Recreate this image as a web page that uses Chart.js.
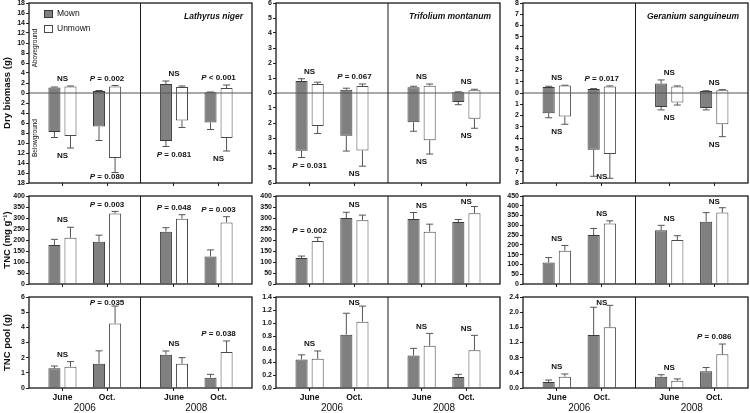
<!DOCTYPE html>
<html>
<head>
<meta charset="utf-8">
<script src="https://cdn.jsdelivr.net/npm/chart.js@4.4.1/dist/chart.umd.min.js"></script>
<style>
  html, body { margin: 0; padding: 0; background: #fff; }
  #wrap { position: relative; width: 750px; height: 413px; }
  #wrap canvas { position: absolute; left: 0; top: 0; }
</style>
</head>
<body>
<div id="wrap"></div>
<script>
// ---- categories / labels ----
const PERIODS = ['June', 'Oct.', 'June', 'Oct.'];
const YEARS = ['2006', '2008'];
const SERIES = ['Mown', 'Unmown'];
const SPECIES = ['Lathyrus niger', 'Trifolium montanum', 'Geranium sanguineum'];
const ROW_TITLES = ['Dry biomass (g)', 'TNC (mg g\u207B\u00B9)', 'TNC pool (g)'];

// ---- Lathyrus niger ----
const LN_ABOVE_MOWN = [1.1, 0.4, 1.8, 0.15];
const LN_ABOVE_MOWN_SE = [0.1, 0.1, 0.6, 0.05];
const LN_ABOVE_UNMOWN = [1.3, 1.3, 1.2, 1.0];
const LN_ABOVE_UNMOWN_SE = [0.1, 0.2, 0.2, 0.6];
const LN_BELOW_MOWN = [7.8, 6.7, 9.6, 5.9];
const LN_BELOW_MOWN_SE = [1.1, 2.8, 1.1, 1.4];
const LN_BELOW_UNMOWN = [8.6, 13.0, 5.5, 9.0];
const LN_BELOW_UNMOWN_SE = [2.4, 2.9, 1.4, 2.6];
const LN_TNC_MOWN = [177, 192, 238, 125];
const LN_TNC_MOWN_SE = [26, 30, 18, 30];
const LN_TNC_UNMOWN = [210, 320, 297, 280];
const LN_TNC_UNMOWN_SE = [48, 10, 18, 26];
const LN_POOL_MOWN = [1.3, 1.6, 2.2, 0.68];
const LN_POOL_MOWN_SE = [0.15, 0.85, 0.24, 0.22];
const LN_POOL_UNMOWN = [1.4, 4.25, 1.6, 2.38];
const LN_POOL_UNMOWN_SE = [0.34, 1.15, 0.4, 0.72];
const LN_P_ABOVE = ['NS', 'P = 0.002', 'NS', 'P < 0.001'];
const LN_P_BELOW = ['NS', 'P = 0.080', 'P = 0.081', 'NS'];
const LN_P_TNC = ['NS', 'P = 0.003', 'P = 0.048', 'P = 0.003'];
const LN_P_POOL = ['NS', 'P = 0.035', 'NS', 'P = 0.038'];

// ---- Trifolium montanum ----
const TM_ABOVE_MOWN = [0.8, 0.22, 0.38, 0.05];
const TM_ABOVE_MOWN_SE = [0.15, 0.1, 0.07, 0.03];
const TM_ABOVE_UNMOWN = [0.6, 0.47, 0.49, 0.18];
const TM_ABOVE_UNMOWN_SE = [0.12, 0.13, 0.11, 0.07];
const TM_BELOW_MOWN = [3.85, 2.85, 1.95, 0.6];
const TM_BELOW_MOWN_SE = [0.45, 1.02, 0.6, 0.18];
const TM_BELOW_UNMOWN = [2.2, 3.83, 3.15, 1.72];
const TM_BELOW_UNMOWN_SE = [0.5, 1.05, 0.92, 0.63];
const TM_TNC_MOWN = [118, 300, 295, 282];
const TM_TNC_MOWN_SE = [9, 26, 30, 11];
const TM_TNC_UNMOWN = [195, 290, 238, 322];
const TM_TNC_UNMOWN_SE = [17, 23, 34, 30];
const TM_POOL_MOWN = [0.44, 0.82, 0.5, 0.17];
const TM_POOL_MOWN_SE = [0.07, 0.33, 0.11, 0.04];
const TM_POOL_UNMOWN = [0.45, 1.02, 0.65, 0.58];
const TM_POOL_UNMOWN_SE = [0.12, 0.24, 0.19, 0.23];
const TM_P_ABOVE = ['NS', 'P = 0.067', 'NS', 'NS'];
const TM_P_BELOW = ['P = 0.031', 'NS', 'NS', 'NS'];
const TM_P_TNC = ['P = 0.002', 'NS', 'NS', 'NS'];
const TM_P_POOL = ['NS', 'NS', 'NS', 'NS'];

// ---- Geranium sanguineum ----
const GS_ABOVE_MOWN = [0.54, 0.36, 0.84, 0.18];
const GS_ABOVE_MOWN_SE = [0.06, 0.03, 0.32, 0.02];
const GS_ABOVE_UNMOWN = [0.66, 0.57, 0.57, 0.24];
const GS_ABOVE_UNMOWN_SE = [0.03, 0.06, 0.06, 0.06];
const GS_BELOW_MOWN = [1.79, 5.04, 1.25, 1.34];
const GS_BELOW_MOWN_SE = [0.41, 2.36, 0.25, 0.16];
const GS_BELOW_UNMOWN = [2.09, 5.43, 0.84, 2.78];
const GS_BELOW_UNMOWN_SE = [0.69, 2.15, 0.23, 1.1];
const GS_TNC_MOWN = [110, 250, 275, 318];
const GS_TNC_MOWN_SE = [25, 34, 25, 47];
const GS_TNC_UNMOWN = [170, 310, 225, 365];
const GS_TNC_UNMOWN_SE = [27, 13, 22, 25];
const GS_POOL_MOWN = [0.16, 1.4, 0.3, 0.44];
const GS_POOL_MOWN_SE = [0.05, 0.73, 0.05, 0.1];
const GS_POOL_UNMOWN = [0.3, 1.6, 0.19, 0.89];
const GS_POOL_UNMOWN_SE = [0.07, 0.58, 0.05, 0.27];
const GS_P_ABOVE = ['NS', 'P = 0.017', 'NS', 'NS'];
const GS_P_BELOW = ['NS', 'NS', 'NS', 'NS'];
const GS_P_TNC = ['NS', 'NS', 'NS', 'NS'];
const GS_P_POOL = ['NS', 'NS', 'NS', 'P = 0.086'];

// ---- look ----
const FONT = '"Liberation Sans", Arial, sans-serif';
const INK = '#111';
const MOWN_FILL = '#808080', MOWN_EDGE = '#3a3a3a';
const UNMOWN_FILL = '#ffffff', UNMOWN_EDGE = '#4a4a4a';
const W = 750, H = 413;

// plot-area frames of the 3x3 grid
const COLS = [{ l: 29, r: 252 }, { l: 276, r: 500 }, { l: 523, r: 748 }];
const ROWS = [{ t: 3, b: 183 }, { t: 196, b: 284 }, { t: 297, b: 388 }];

// June/Oct. of each year sit left/right inside their half of the panel
function xAt(i) { return Math.floor(i / 2) * 2 + (i % 2 ? 1.4 : 0.6); }
function pts(vals) { return vals.map((v, i) => ({ x: xAt(i), y: v })); }
function spans(up, down) { return up.map((v, i) => ({ x: xAt(i), y: [-down[i], v] })); }

function whisker(ctx, x, y0, y1) {
  ctx.beginPath();
  ctx.moveTo(x, y0); ctx.lineTo(x, y1);
  ctx.moveTo(x - 3.5, y1); ctx.lineTo(x + 3.5, y1);
  ctx.stroke();
}

// "P" in italic, rest bold, centred on cx
function stat(ctx, txt, cx, cy) {
  ctx.textBaseline = 'middle';
  ctx.textAlign = 'left';
  const bold = 'bold 8px ' + FONT;
  if (txt[0] === 'P') {
    const rest = txt.slice(1);
    ctx.font = 'italic bold 8px ' + FONT;
    const wp = ctx.measureText('P').width;
    ctx.font = bold;
    const wr = ctx.measureText(rest).width;
    let x0 = cx - (wp + wr) / 2;
    ctx.font = 'italic bold 8px ' + FONT;
    ctx.fillText('P', x0, cy);
    ctx.font = bold;
    ctx.fillText(rest, x0 + wp, cy);
  } else {
    ctx.font = bold;
    ctx.textAlign = 'center';
    ctx.fillText(txt, cx, cy);
  }
}

const decor = {
  id: 'decor',
  afterDatasetsDraw(chart, args, o) {
    const { ctx, chartArea: a } = chart;
    const xs = chart.scales.x, ys = chart.scales.y;
    const sets = chart.data.datasets;
    ctx.save();

    if (o.zeroLine) {
      const y0 = ys.getPixelForValue(0);
      ctx.strokeStyle = '#555';
      ctx.lineWidth = 1;
      ctx.beginPath(); ctx.moveTo(a.left, y0); ctx.lineTo(a.right, y0); ctx.stroke();
    }

    // error bars
    ctx.strokeStyle = '#555';
    ctx.lineWidth = 1;
    const topTip = [], lowTip = [];
    sets.forEach((ds, di) => {
      chart.getDatasetMeta(di).data.forEach((bar, i) => {
        const raw = ds.data[i].y;
        const hi = Array.isArray(raw) ? raw[1] : raw;
        const yHi = ys.getPixelForValue(hi + ds.errUp[i]);
        whisker(ctx, bar.x, ys.getPixelForValue(hi), yHi);
        topTip[i] = Math.min(topTip[i] ?? Infinity, yHi);
        if (ds.errDown) {
          const yLo = ys.getPixelForValue(raw[0] - ds.errDown[i]);
          whisker(ctx, bar.x, ys.getPixelForValue(raw[0]), yLo);
          lowTip[i] = Math.max(lowTip[i] ?? -Infinity, yLo);
        }
      });
    });

    // significance labels
    ctx.fillStyle = INK;
    (o.above || []).forEach((t, i) => {
      const cy = Math.max(topTip[i] - 7, a.top + 6);
      stat(ctx, t, xs.getPixelForValue(xAt(i)), cy);
    });
    (o.below || []).forEach((t, i) => {
      const cy = Math.min(lowTip[i] + 8, a.bottom - 6);
      stat(ctx, t, xs.getPixelForValue(xAt(i)), cy);
    });

    // frame and year divider
    ctx.strokeStyle = '#1a1a1a';
    ctx.lineWidth = 1.3;
    ctx.strokeRect(a.left, a.top, a.width, a.height);
    const xd = xs.getPixelForValue(2);
    ctx.lineWidth = 1;
    ctx.beginPath(); ctx.moveTo(xd, a.top); ctx.lineTo(xd, a.bottom); ctx.stroke();

    ctx.fillStyle = INK;
    if (o.species) {
      ctx.font = 'italic bold 8.5px ' + FONT;
      ctx.textAlign = 'right';
      ctx.textBaseline = 'middle';
      ctx.fillText(o.species, a.right - 9, a.top + 14);
    }

    if (o.legend) {
      ctx.font = '8.5px ' + FONT;
      ctx.textAlign = 'left';
      ctx.textBaseline = 'middle';
      sets.forEach((ds, k) => {
        const yy = a.top + 7 + k * 15;
        ctx.fillStyle = ds.backgroundColor;
        ctx.fillRect(a.left + 15, yy, 9, 8);
        ctx.strokeStyle = ds.borderColor;
        ctx.lineWidth = 1;
        ctx.strokeRect(a.left + 15.5, yy + 0.5, 8, 7);
        ctx.fillStyle = INK;
        ctx.fillText(ds.label, a.left + 28, yy + 4);
      });
    }

    if (o.sideNotes) {
      ctx.font = '6.5px ' + FONT;
      ctx.textAlign = 'center';
      ctx.textBaseline = 'middle';
      const max = ys.max;
      [['Aboveground', max / 2], ['Belowground', -max / 2]].forEach(([t, v]) => {
        ctx.save();
        ctx.translate(a.left + 6, ys.getPixelForValue(v));
        ctx.rotate(-Math.PI / 2);
        ctx.fillText(t, 0, 0);
        ctx.restore();
      });
    }

    if (o.years) {
      ctx.font = '10px ' + FONT;
      ctx.textAlign = 'center';
      ctx.textBaseline = 'middle';
      YEARS.forEach((yr, k) => ctx.fillText(yr, xs.getPixelForValue(1 + 2 * k), a.bottom + 20));
    }
    ctx.restore();
  }
};

function makePanel(row, col, cfg) {
  const cv = document.createElement('canvas');
  cv.width = W; cv.height = H;
  document.getElementById('wrap').appendChild(cv);
  const C = COLS[col], R = ROWS[row];
  const yW = col === 0 ? 29 : 24;
  const xH = row === 2 ? 14 : 4;
  const floating = row === 0;
  const ds = (label, data, up, down, fill, edge) => ({
    label, data, errUp: up, errDown: down,
    backgroundColor: fill, borderColor: edge, borderWidth: 1,
    borderSkipped: floating ? false : 'start',
    categoryPercentage: 0.72, barPercentage: 0.75
  });
  return new Chart(cv, {
    type: 'bar',
    data: {
      datasets: [
        ds(SERIES[0], cfg.mown, cfg.mownUp, cfg.mownDown, MOWN_FILL, MOWN_EDGE),
        ds(SERIES[1], cfg.unmown, cfg.unmownUp, cfg.unmownDown, UNMOWN_FILL, UNMOWN_EDGE)
      ]
    },
    options: {
      responsive: false,
      animation: false,
      events: [],
      layout: { padding: { left: C.l - yW, right: W - C.r, top: R.t, bottom: H - R.b - xH } },
      plugins: {
        legend: { display: false },
        tooltip: { enabled: false },
        decor: {
          above: cfg.above, below: cfg.below,
          zeroLine: floating, species: row === 0 ? SPECIES[col] : null,
          legend: row === 0 && col === 0, sideNotes: row === 0 && col === 0,
          years: row === 2
        }
      },
      scales: {
        x: {
          type: 'linear', min: 0, max: 4, offset: false,
          afterBuildTicks: s => { s.ticks = [0, 1, 2, 3].map(i => ({ value: xAt(i) })); },
          afterFit: s => { s.height = xH; s.paddingLeft = 0; s.paddingRight = 0; },
          grid: { drawOnChartArea: false, tickLength: 3, color: '#222', offset: false },
          border: { display: false },
          ticks: {
            display: row === 2, padding: 2, color: INK, maxRotation: 0, autoSkip: false,
            font: { family: FONT, size: 8.5, weight: 'bold' },
            callback: (v, i) => PERIODS[i]
          }
        },
        y: {
          min: cfg.min, max: cfg.max,
          afterFit: s => { s.width = yW; s.paddingTop = 0; s.paddingBottom = 0; },
          grid: { drawOnChartArea: false, tickLength: 3, color: '#222' },
          border: { display: false },
          ticks: {
            stepSize: cfg.step, padding: 1, color: INK, autoSkip: false,
            font: { family: FONT, size: 7, weight: 'bold' },
            callback: cfg.fmt
          },
          title: {
            display: col === 0, text: ROW_TITLES[row], color: INK, padding: { top: 2, bottom: 0 },
            font: { family: FONT, size: 9.5, weight: 'bold' }
          }
        }
      }
    },
    plugins: [decor]
  });
}

const absInt = v => String(Math.abs(Math.round(v)));
const int = v => String(Math.round(v));
const one = v => v.toFixed(1);

// row 1: dry biomass, above (up) and below (down) ground
makePanel(0, 0, {
  mown: spans(LN_ABOVE_MOWN, LN_BELOW_MOWN), mownUp: LN_ABOVE_MOWN_SE, mownDown: LN_BELOW_MOWN_SE,
  unmown: spans(LN_ABOVE_UNMOWN, LN_BELOW_UNMOWN), unmownUp: LN_ABOVE_UNMOWN_SE, unmownDown: LN_BELOW_UNMOWN_SE,
  above: LN_P_ABOVE, below: LN_P_BELOW, min: -18, max: 18, step: 2, fmt: absInt
});
makePanel(0, 1, {
  mown: spans(TM_ABOVE_MOWN, TM_BELOW_MOWN), mownUp: TM_ABOVE_MOWN_SE, mownDown: TM_BELOW_MOWN_SE,
  unmown: spans(TM_ABOVE_UNMOWN, TM_BELOW_UNMOWN), unmownUp: TM_ABOVE_UNMOWN_SE, unmownDown: TM_BELOW_UNMOWN_SE,
  above: TM_P_ABOVE, below: TM_P_BELOW, min: -6, max: 6, step: 1, fmt: absInt
});
makePanel(0, 2, {
  mown: spans(GS_ABOVE_MOWN, GS_BELOW_MOWN), mownUp: GS_ABOVE_MOWN_SE, mownDown: GS_BELOW_MOWN_SE,
  unmown: spans(GS_ABOVE_UNMOWN, GS_BELOW_UNMOWN), unmownUp: GS_ABOVE_UNMOWN_SE, unmownDown: GS_BELOW_UNMOWN_SE,
  above: GS_P_ABOVE, below: GS_P_BELOW, min: -8, max: 8, step: 1, fmt: absInt
});

// row 2: TNC concentration
makePanel(1, 0, {
  mown: pts(LN_TNC_MOWN), mownUp: LN_TNC_MOWN_SE,
  unmown: pts(LN_TNC_UNMOWN), unmownUp: LN_TNC_UNMOWN_SE,
  above: LN_P_TNC, min: 0, max: 400, step: 50, fmt: int
});
makePanel(1, 1, {
  mown: pts(TM_TNC_MOWN), mownUp: TM_TNC_MOWN_SE,
  unmown: pts(TM_TNC_UNMOWN), unmownUp: TM_TNC_UNMOWN_SE,
  above: TM_P_TNC, min: 0, max: 400, step: 50, fmt: int
});
makePanel(1, 2, {
  mown: pts(GS_TNC_MOWN), mownUp: GS_TNC_MOWN_SE,
  unmown: pts(GS_TNC_UNMOWN), unmownUp: GS_TNC_UNMOWN_SE,
  above: GS_P_TNC, min: 0, max: 450, step: 50, fmt: int
});

// row 3: TNC pool
makePanel(2, 0, {
  mown: pts(LN_POOL_MOWN), mownUp: LN_POOL_MOWN_SE,
  unmown: pts(LN_POOL_UNMOWN), unmownUp: LN_POOL_UNMOWN_SE,
  above: LN_P_POOL, min: 0, max: 6, step: 1, fmt: int
});
makePanel(2, 1, {
  mown: pts(TM_POOL_MOWN), mownUp: TM_POOL_MOWN_SE,
  unmown: pts(TM_POOL_UNMOWN), unmownUp: TM_POOL_UNMOWN_SE,
  above: TM_P_POOL, min: 0, max: 1.4, step: 0.2, fmt: one
});
makePanel(2, 2, {
  mown: pts(GS_POOL_MOWN), mownUp: GS_POOL_MOWN_SE,
  unmown: pts(GS_POOL_UNMOWN), unmownUp: GS_POOL_UNMOWN_SE,
  above: GS_P_POOL, min: 0, max: 2.4, step: 0.4, fmt: one
});
</script>
</body>
</html>
